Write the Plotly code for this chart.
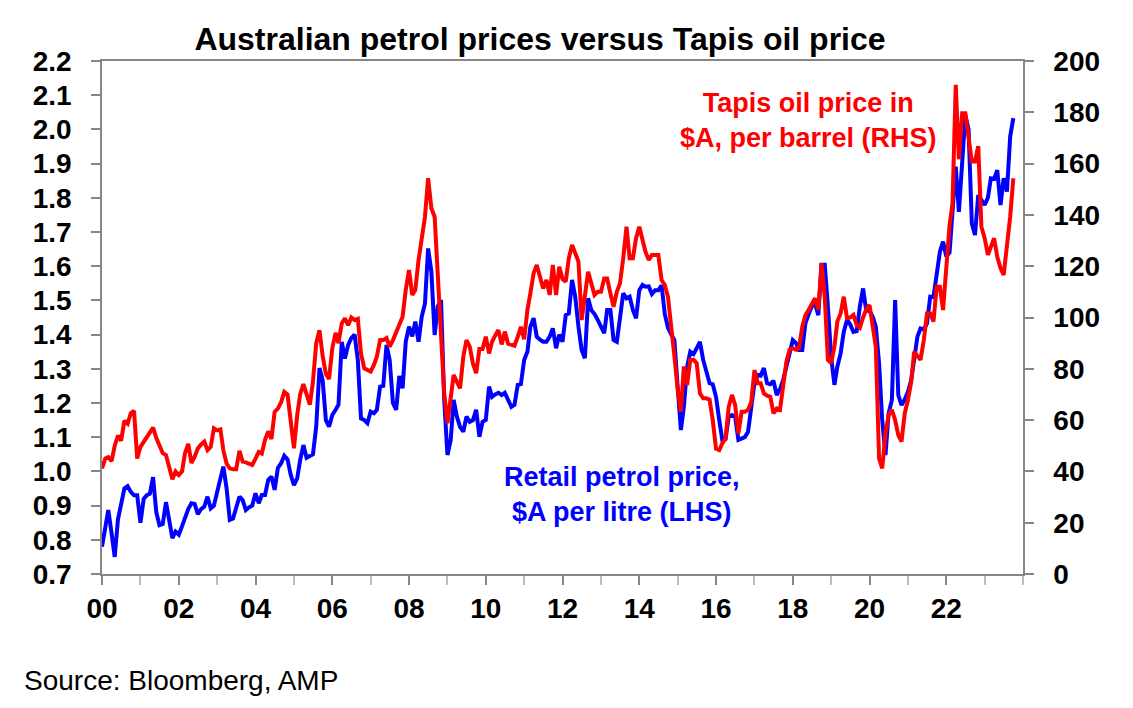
import plotly.graph_objects as go
import pandas as pd

# monthly, Jan 2000 - Oct 2023
months = pd.date_range("2000-01-01", periods=286, freq="MS")

# retail petrol price, $A per litre (LHS)
petrol = [
    0.78, 0.83, 0.887, 0.82, 0.75, 0.86, 0.91, 0.95, 0.957, 0.94, 0.93, 0.93,          # 2000
    0.85, 0.92, 0.93, 0.935, 0.983, 0.88, 0.843, 0.846, 0.91, 0.86, 0.805, 0.824,      # 2001
    0.815, 0.84, 0.867, 0.89, 0.907, 0.905, 0.875, 0.89, 0.897, 0.926, 0.892, 0.90,    # 2002
    0.94, 0.975, 1.014, 0.95, 0.858, 0.862, 0.895, 0.926, 0.916, 0.887, 0.895, 0.90,   # 2003
    0.936, 0.907, 0.931, 0.931, 0.975, 0.985, 0.946, 1.01, 1.024, 1.046, 1.035, 0.99,  # 2004
    0.96, 0.98, 1.033, 1.077, 1.04, 1.045, 1.05, 1.131, 1.302, 1.267, 1.15, 1.131,     # 2005
    1.165, 1.18, 1.195, 1.379, 1.33, 1.37, 1.39, 1.40, 1.326, 1.155, 1.15, 1.141,      # 2006
    1.175, 1.17, 1.18, 1.248, 1.25, 1.37, 1.326, 1.2, 1.18, 1.279, 1.243, 1.379,       # 2007
    1.423, 1.395, 1.438, 1.379, 1.452, 1.491, 1.652, 1.584, 1.399, 1.482, 1.501, 1.209,  # 2008
    1.048, 1.092, 1.209, 1.16, 1.13, 1.116, 1.16, 1.145, 1.15, 1.18, 1.101, 1.145,     # 2009
    1.15, 1.248, 1.218, 1.225, 1.23, 1.223, 1.23, 1.209, 1.189, 1.195, 1.253, 1.255,   # 2010
    1.326, 1.35, 1.423, 1.448, 1.394, 1.385, 1.379, 1.379, 1.394, 1.418, 1.36, 1.40,   # 2011
    1.379, 1.457, 1.462, 1.56, 1.511, 1.423, 1.355, 1.331, 1.506, 1.472, 1.46, 1.443,  # 2012
    1.423, 1.404, 1.472, 1.472, 1.384, 1.379, 1.448, 1.521, 1.506, 1.511, 1.472, 1.448,  # 2013
    1.53, 1.545, 1.54, 1.541, 1.519, 1.53, 1.53, 1.544, 1.46, 1.42, 1.40, 1.384,       # 2014
    1.248, 1.121, 1.189, 1.306, 1.35, 1.343, 1.36, 1.379, 1.326, 1.287, 1.258, 1.255,  # 2015
    1.218, 1.15, 1.092, 1.095, 1.16, 1.165, 1.16, 1.092, 1.095, 1.10, 1.116, 1.189,    # 2016
    1.258, 1.282, 1.28, 1.302, 1.258, 1.255, 1.265, 1.223, 1.24, 1.267, 1.306, 1.355,  # 2017
    1.384, 1.375, 1.355, 1.355, 1.433, 1.46, 1.482, 1.49, 1.457, 1.604, 1.604, 1.482,  # 2018
    1.335, 1.253, 1.306, 1.345, 1.408, 1.443, 1.43, 1.408, 1.41, 1.482, 1.535, 1.47,   # 2019
    1.47, 1.452, 1.423, 1.316, 1.15, 1.048, 1.17, 1.209, 1.501, 1.223, 1.194, 1.21,    # 2020
    1.233, 1.267, 1.335, 1.394, 1.418, 1.415, 1.433, 1.511, 1.51, 1.579, 1.642, 1.672,  # 2021
    1.628, 1.64, 1.745, 1.891, 1.759, 1.918, 2.042, 2.0, 1.725, 1.691, 1.808, 1.794,   # 2022
    1.779, 1.80, 1.857, 1.855, 1.881, 1.779, 1.857, 1.818, 1.979, 2.033,               # 2023
]

# Tapis oil price, $A per barrel (RHS)
tapis = [
    41.2, 45, 45.5, 44, 50, 54, 52, 59.7, 58.6, 62.7, 63.6, 45,              # 2000
    49.6, 51.6, 53.5, 55, 57.1, 53, 49.6, 47.1, 46.4, 42, 36.9, 40,          # 2001
    38.6, 40, 47.1, 50.7, 43.3, 45.7, 48.9, 50.5, 51.6, 48.3, 49.6, 56.8,    # 2002
    56, 56.4, 48.3, 43, 41.2, 40.8, 40.8, 48, 43.8, 43.5, 43, 42.5,          # 2003
    45, 47.6, 47, 52.3, 55.6, 52.6, 63.2, 64.5, 67, 71, 70, 58,              # 2004
    49, 62, 70, 74, 70, 66, 75, 90, 95, 85, 78, 76,                          # 2005
    88, 94, 90, 97.7, 99.7, 97, 100, 99, 99.5, 86, 80.2, 79.5,               # 2006
    78.9, 81.5, 84.7, 91.2, 91.2, 92, 88.6, 91.2, 94.4, 97, 100.3, 110.7,    # 2007
    118.5, 108.8, 110.7, 122.4, 130.2, 139.3, 154.3, 142.6, 139.3, 114.6, 88.6, 70.4,  # 2008
    58.8, 69.6, 77.6, 74.9, 72.4, 84.7, 91.2, 88.6, 82, 78.3, 87.7, 87.7,    # 2009
    92.5, 86, 90.5, 93, 95.1, 89.5, 94.5, 89.8, 89.5, 89, 92.5, 96.4,        # 2010
    91.5, 102.9, 109.4, 117.2, 120.5, 116, 111.3, 114.6, 108.8, 120.5, 108.8, 119.8,  # 2011
    115, 114, 123.1, 128.3, 125.1, 121.8, 99, 109.4, 117.8, 113.3, 108.8, 110,  # 2012
    110, 115.2, 115.2, 109.4, 104.2, 110, 113.3, 123.1, 135.4, 123.1, 123.1, 130.9,  # 2013
    135.4, 130.2, 125.6, 122.4, 124.4, 124.4, 124.4, 114.6, 112.6, 108, 97.7, 85,  # 2014
    72, 63.3, 80.9, 73.7, 83.5, 83.5, 82.2, 70.4, 68.5, 68.5, 68, 60,        # 2015
    48.9, 48.3, 50.9, 52.8, 65.2, 69.8, 65.9, 54.8, 63.3, 63.3, 64, 67,      # 2016
    79.5, 74.4, 74.4, 70.4, 69.5, 69.1, 62.6, 64.5, 64, 74.4, 82.8, 87.4,    # 2017
    88, 87.4, 88, 96.4, 100.9, 103, 105.5, 107.5, 103, 121.1, 108, 83.5,     # 2018
    82.2, 88.6, 98.4, 101.6, 108.1, 99.7, 100, 101, 97, 96, 100, 103.2,      # 2019
    104.9, 95.1, 88.6, 45.1, 41.2, 54.8, 62, 64, 60, 54.2, 51.6, 62.6,       # 2020
    67.8, 75, 86.7, 85, 83.5, 91.2, 101.6, 101.6, 98.4, 112, 112, 102.9,     # 2021
    122.4, 136, 144.5, 190.7, 161.7, 179.6, 179.6, 169.3, 160.8, 160.8, 166.8, 135.4,  # 2022
    130.9, 124.4, 128, 130.9, 123.7, 119.2, 116.6, 127.6, 139.3, 154.3,      # 2023
]

year_ticks = pd.date_range("2000-01-01", "2022-01-01", freq="24MS")
year_labels = ["<b>%s</b>" % d.strftime("%y") for d in year_ticks]

AXIS_GREY = "#868686"
FONT = "Liberation Sans, Arial, sans-serif"
TICK_SIZE = 28

fig = go.Figure()

fig.add_trace(go.Scatter(x=months, y=petrol, mode="lines",
                         line=dict(color="#0000FF", width=4), name="Retail petrol"))
fig.add_trace(go.Scatter(x=months, y=tapis, mode="lines", yaxis="y2",
                         line=dict(color="#FF0000", width=4), name="Tapis"))

fig.update_layout(
    width=1133, height=708,
    margin=dict(l=102, r=110, t=61, b=134),
    paper_bgcolor="white", plot_bgcolor="white",
    showlegend=False,
    font=dict(family=FONT, color="black"),
    title=dict(text="<b>Australian petrol prices versus Tapis oil price</b>",
               x=540 / 1133, xref="container", xanchor="center",
               y=1 - 39 / 708, yref="container", yanchor="middle",
               automargin=False,
               font=dict(size=32, color="black")),
    xaxis=dict(
        range=["2000-01-01", "2024-01-01"],
        tickvals=year_ticks, ticktext=year_labels,
        ticks="outside", ticklen=9, tickcolor=AXIS_GREY, tickwidth=1.5,
        minor=dict(dtick="M12", tick0="2000-01-01", ticks="outside", ticklen=9,
                   tickcolor="#BDBDBD", tickwidth=1.5),
        showline=True, linecolor=AXIS_GREY, linewidth=1.5, mirror=True,
        showgrid=False, zeroline=False, automargin=False,
        tickfont=dict(size=TICK_SIZE, family=FONT),
    ),
    yaxis=dict(
        range=[0.7, 2.2], dtick=0.1, tickformat=".1f",
        tickprefix="<b>", ticksuffix="</b>",
        ticks="outside", ticklen=9, tickcolor=AXIS_GREY, tickwidth=1.5,
        ticklabelstandoff=14,
        showline=True, linecolor=AXIS_GREY, linewidth=1.5,
        showgrid=False, zeroline=False, automargin=False,
        tickfont=dict(size=TICK_SIZE, family=FONT),
    ),
    yaxis2=dict(
        range=[0, 200], dtick=20, overlaying="y", side="right",
        tickprefix="<b>", ticksuffix="</b>",
        ticks="outside", ticklen=9, tickcolor=AXIS_GREY, tickwidth=1.5,
        ticklabelstandoff=14,
        showline=True, linecolor=AXIS_GREY, linewidth=1.5,
        showgrid=False, zeroline=False, automargin=False,
        tickfont=dict(size=TICK_SIZE, family=FONT),
    ),
)

fig.add_annotation(text="<b>Tapis oil price in<br>$A, per barrel (RHS)</b>",
                   xref="paper", yref="paper",
                   x=(808 - 102) / 921, y=(574 - 120) / 513,
                   xanchor="center", yanchor="middle",
                   showarrow=False, align="center",
                   font=dict(size=27, color="#FF0000", family=FONT))
fig.add_annotation(text="<b>Retail petrol price,<br>$A per litre (LHS)</b>",
                   xref="paper", yref="paper",
                   x=(622 - 102) / 921, y=(574 - 494) / 513,
                   xanchor="center", yanchor="middle",
                   showarrow=False, align="center",
                   font=dict(size=27, color="#0000FF", family=FONT))
fig.add_annotation(text="Source: Bloomberg, AMP",
                   xref="paper", yref="paper",
                   x=(22 - 102) / 921, y=(574 - 680) / 513,
                   xanchor="left", yanchor="middle", showarrow=False,
                   font=dict(size=28, color="black", family=FONT))

# the page body has an 8px default margin; drop it so the figure sits at 0,0
fig.write_html("out.html", config={"displayModeBar": False},
               post_script="document.body.style.margin='0';")
